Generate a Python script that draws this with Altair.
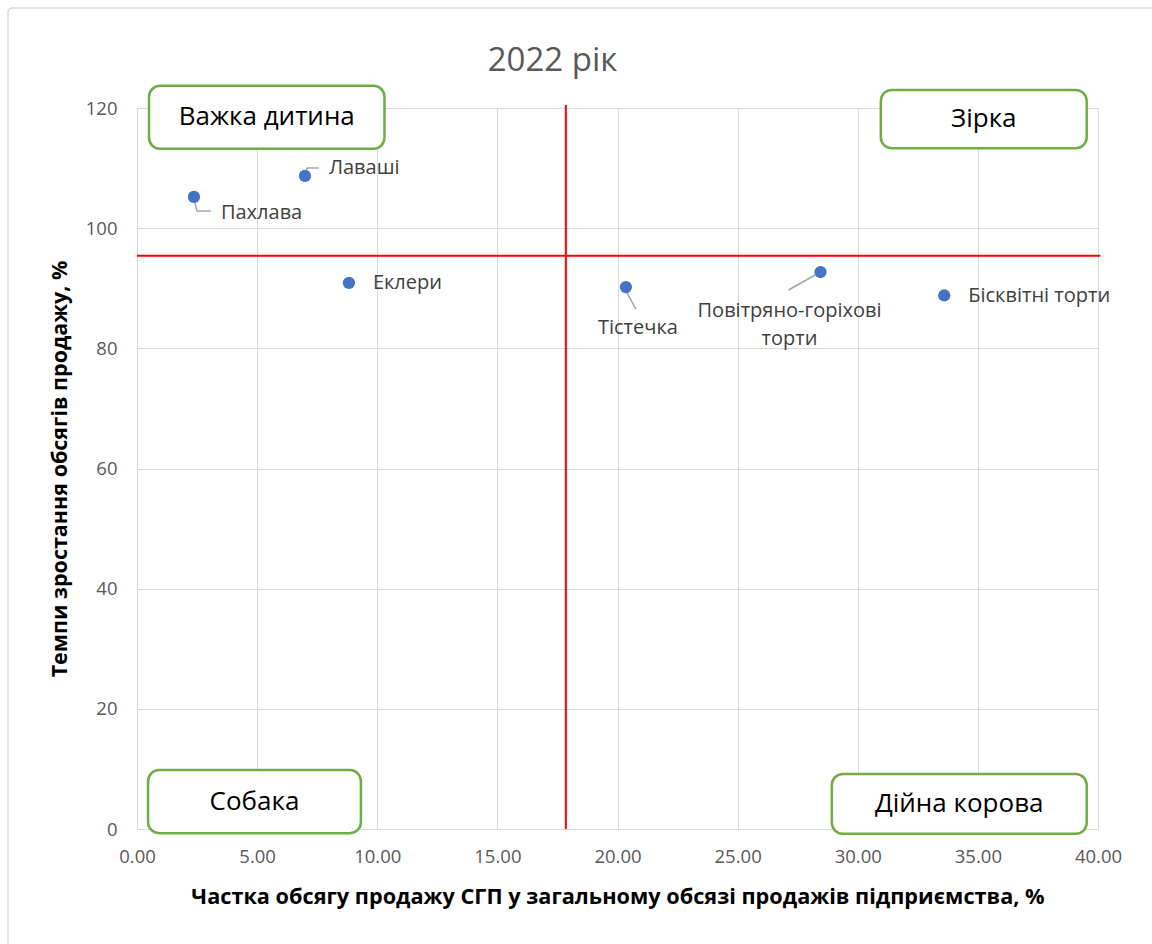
import altair as alt
import pandas as pd

# ---- data ----
names = ["Пахлава", "Лаваші", "Еклери", "Тістечка", "Повітряно-горіхові торти", "Бісквітні торти"]
share = [2.37, 6.99, 8.82, 20.35, 28.45, 33.6]
growth = [105.2, 108.7, 90.9, 90.2, 92.7, 88.8]

avg_share = 17.85
avg_growth = 95.4

quad_names = ["Важка дитина", "Зірка", "Собака", "Дійна корова"]
quad_x1 = [0.5, 30.96, 0.46, 28.92]
quad_x2 = [10.3, 39.53, 9.32, 39.53]
quad_y1 = [113.2, 113.3, -0.7, -0.8]
quad_y2 = [123.7, 123.0, 9.8, 9.15]

W, H = 961, 721
XMAX, YMAX = 40, 120
PXX = W / XMAX
PXY = H / YMAX

FONT = "Open Sans"
pts = pd.DataFrame({"name": names, "x": share, "y": growth})

xs = alt.Scale(domain=[0, XMAX], nice=False)
ys = alt.Scale(domain=[0, YMAX], nice=False)

x_axis = alt.Axis(values=[0, 5, 10, 15, 20, 25, 30, 35, 40], format=".2f",
                  title="Частка обсягу продажу СГП у загальному обсязі продажів підприємства, %",
                  labelFontSize=18.5, labelColor="#595959", labelFont=FONT, labelPadding=18,
                  labelFlush=False,
                  titleFontSize=21.7, titleFont=FONT, titleFontWeight="bold", titleColor="#000000",
                  titlePadding=21, tickSize=0, domain=True, domainColor="#d9d9d9",
                  gridColor="#d9d9d9", grid=True)
y_axis = alt.Axis(values=[0, 20, 40, 60, 80, 100, 120], format="d",
                  title="Темпи зростання обсягів продажу, %",
                  labelFontSize=18.5, labelColor="#595959", labelFont=FONT, labelPadding=20,
                  labelFlush=False,
                  titleFontSize=21.5, titleFont=FONT, titleFontWeight="bold", titleColor="#000000",
                  titlePadding=14, tickSize=0, domain=False, gridColor="#d9d9d9", grid=True)

base = alt.Chart(pts)

points = base.mark_circle(size=150, color="#4472C4", opacity=1).encode(
    x=alt.X("x:Q", scale=xs, axis=x_axis),
    y=alt.Y("y:Q", scale=ys, axis=y_axis),
)

# label placement (pixel offsets from each point)
label_style = {
    "Пахлава": dict(dx=27, dy=16, align="left"),
    "Лаваші": dict(dx=24, dy=-8, align="left"),
    "Еклери": dict(dx=24, dy=0, align="left"),
    "Тістечка": dict(dx=12, dy=41, align="center"),
    "Бісквітні торти": dict(dx=24, dy=1, align="left"),
}
labels = []
for nm, st in label_style.items():
    labels.append(
        base.transform_filter(alt.datum.name == nm).mark_text(
            align=st["align"], baseline="middle", dx=st["dx"], dy=st["dy"],
            fontSize=20, font=FONT, color="#404040"
        ).encode(x=alt.X("x:Q", scale=xs), y=alt.Y("y:Q", scale=ys), text="name:N")
    )
labels.append(
    base.transform_filter(alt.datum.name == "Повітряно-горіхові торти").mark_text(
        align="center", baseline="middle", dx=-31, dy=39, fontSize=20, font=FONT,
        color="#404040", lineHeight=28
    ).encode(x=alt.X("x:Q", scale=xs), y=alt.Y("y:Q", scale=ys),
             text=alt.value(["Повітряно-горіхові", "торти"]))
)

# leader lines (pixel offsets from the point)
leader_shapes = {
    "Пахлава": [(0, 2), (3, 14), (17, 14)],
    "Лаваші": [(0, 0), (2, -8), (14, -8)],
    "Тістечка": [(-2, 0), (10, 22)],
    "Повітряно-горіхові торти": [(-32, 18), (0, 0)],
}
rows = []
for nm, seg in leader_shapes.items():
    i = names.index(nm)
    for k, (dx, dy) in enumerate(seg):
        rows.append({"name": nm, "k": k, "x": share[i] + dx / PXX, "y": growth[i] - dy / PXY})
leaders = alt.Chart(pd.DataFrame(rows)).mark_line(color="#a6a6a6", strokeWidth=1.5).encode(
    x=alt.X("x:Q", scale=xs), y=alt.Y("y:Q", scale=ys), detail="name:N", order="k:Q"
)

vline = alt.Chart(pd.DataFrame({"x": [avg_share], "y": [0], "y2": [120.5]})).mark_rule(
    color="#FF0000", strokeWidth=2).encode(
    x=alt.X("x:Q", scale=xs), y=alt.Y("y:Q", scale=ys), y2="y2:Q")
hline = alt.Chart(pd.DataFrame({"y": [avg_growth], "x": [0], "x2": [40.1]})).mark_rule(
    color="#FF0000", strokeWidth=2).encode(
    y=alt.Y("y:Q", scale=ys), x=alt.X("x:Q", scale=xs), x2="x2:Q")

quads = pd.DataFrame({"name": quad_names, "x1": quad_x1, "x2": quad_x2, "y1": quad_y1, "y2": quad_y2})
boxes = alt.Chart(quads).mark_rect(fill="white", stroke="#70AD47", strokeWidth=2.5,
                                   cornerRadius=11).encode(
    x=alt.X("x1:Q", scale=xs), x2="x2:Q", y=alt.Y("y1:Q", scale=ys), y2="y2:Q")
box_text = alt.Chart(quads).transform_calculate(
    cx="(datum.x1 + datum.x2) / 2", cy="(datum.y1 + datum.y2) / 2"
).mark_text(fontSize=26, font=FONT, color="#000000", baseline="middle", align="center").encode(
    x=alt.X("cx:Q", scale=xs), y=alt.Y("cy:Q", scale=ys), text="name:N")

frame = alt.Chart(pd.DataFrame({"a": [0]})).mark_rect(
    fill=None, stroke="#d9d9d9", strokeWidth=1.5, cornerRadius=4).encode(
    x=alt.value(8 - 137), x2=alt.value(1170 - 137), y=alt.value(8 - 108), y2=alt.value(960 - 108))

chart = alt.layer(frame, vline, hline, leaders, points, *labels, boxes, box_text).properties(
    width=W, height=H,
    title=alt.Title("2022 рік", fontSize=33, font=FONT, fontWeight="normal", color="#595959",
                    anchor="middle", offset=0, dy=71, dx=-65),
    autosize=alt.AutoSizeParams(type="none"),
    padding={"left": 137, "top": 108, "right": 54, "bottom": 115},
    background="white",
).configure_view(stroke=None)

chart.save("out.html", embed_options={"renderer": "svg", "actions": False})
